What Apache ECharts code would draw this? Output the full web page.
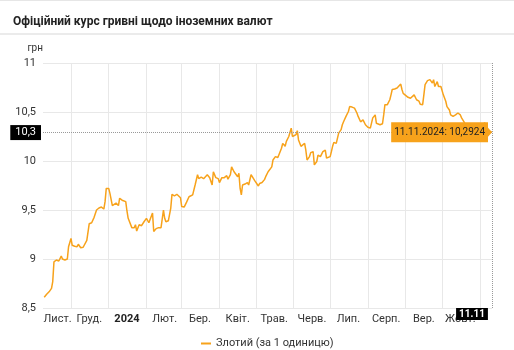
<!DOCTYPE html>
<html>
<head>
<meta charset="utf-8">
<script src="https://cdn.jsdelivr.net/npm/echarts@6/dist/echarts.min.js"></script>
<style>
html,body{margin:0;padding:0;background:#fff;}
#chart{width:514px;height:350px;}
</style>
</head>
<body>
<div id="chart"></div>
<script>
// ---- data ----
const titleText = 'Офіційний курс гривні щодо іноземних валют';
const seriesName = 'Злотий (за 1 одиницю)';
const axisStart = '2023-11-08';
const axisEnd = '2024-11-11';
const monthNames = ['2024','Лют.','Бер.','Квіт.','Трав.','Черв.','Лип.','Серп.','Вер.','Жовт.','Лист.','Груд.'];
const yTicks = [8.5, 9, 9.5, 10, 10.5, 11];
const pointerLabelX = '11.11';
const pointerLabelY = '10,3';
const tipText = '11.11.2024: 10,2924';

const dates = [
'2023-11-09','2023-11-11','2023-11-13','2023-11-15','2023-11-16','2023-11-17','2023-11-19','2023-11-21','2023-11-22','2023-11-23','2023-11-24','2023-11-26','2023-11-28','2023-11-29',
'2023-12-01','2023-12-02','2023-12-04','2023-12-06','2023-12-07','2023-12-09','2023-12-11','2023-12-12','2023-12-14','2023-12-16','2023-12-18','2023-12-19','2023-12-20','2023-12-22','2023-12-24','2023-12-26','2023-12-28','2023-12-29','2023-12-30',
'2024-01-01','2024-01-02','2024-01-04','2024-01-05','2024-01-07','2024-01-09','2024-01-10','2024-01-12','2024-01-15','2024-01-16','2024-01-17','2024-01-20','2024-01-22','2024-01-23','2024-01-24','2024-01-26','2024-01-28','2024-01-30',
'2024-02-01','2024-02-03','2024-02-04','2024-02-06','2024-02-07','2024-02-09','2024-02-11','2024-02-13','2024-02-15','2024-02-16','2024-02-17','2024-02-19','2024-02-21','2024-02-22','2024-02-24','2024-02-26','2024-02-27','2024-02-29',
'2024-03-01','2024-03-03','2024-03-05','2024-03-07','2024-03-08','2024-03-10','2024-03-12','2024-03-14','2024-03-15','2024-03-17','2024-03-19','2024-03-20','2024-03-22','2024-03-24','2024-03-26','2024-03-27','2024-03-29','2024-03-31',
'2024-04-01','2024-04-03','2024-04-05','2024-04-07','2024-04-08','2024-04-10','2024-04-11','2024-04-13','2024-04-14','2024-04-16','2024-04-17','2024-04-18','2024-04-19','2024-04-20','2024-04-22','2024-04-24','2024-04-25','2024-04-27','2024-04-28','2024-04-30',
'2024-05-01','2024-05-03','2024-05-04','2024-05-06','2024-05-08','2024-05-09','2024-05-11','2024-05-12','2024-05-14','2024-05-15','2024-05-17','2024-05-19','2024-05-20','2024-05-22','2024-05-23','2024-05-25','2024-05-26','2024-05-27','2024-05-28','2024-05-30','2024-05-31',
'2024-06-01','2024-06-03','2024-06-04','2024-06-05','2024-06-07','2024-06-08','2024-06-10','2024-06-11','2024-06-12','2024-06-14','2024-06-15','2024-06-17','2024-06-18','2024-06-20','2024-06-21','2024-06-23','2024-06-24','2024-06-25','2024-06-27','2024-06-28','2024-06-29',
'2024-07-01','2024-07-02','2024-07-03','2024-07-04','2024-07-06','2024-07-07','2024-07-08','2024-07-10','2024-07-11','2024-07-12','2024-07-14','2024-07-16','2024-07-17','2024-07-19','2024-07-21','2024-07-23','2024-07-24','2024-07-26','2024-07-27','2024-07-28','2024-07-30','2024-07-31',
'2024-08-01','2024-08-03','2024-08-04','2024-08-05','2024-08-07','2024-08-08','2024-08-09','2024-08-11','2024-08-13','2024-08-14','2024-08-15','2024-08-17','2024-08-18','2024-08-19','2024-08-20','2024-08-21','2024-08-23','2024-08-25','2024-08-26','2024-08-28','2024-08-29','2024-08-30',
'2024-09-01','2024-09-03','2024-09-05','2024-09-06','2024-09-08','2024-09-09','2024-09-10','2024-09-12','2024-09-13','2024-09-15','2024-09-16','2024-09-17','2024-09-19','2024-09-21','2024-09-22','2024-09-23','2024-09-24','2024-09-25','2024-09-27','2024-09-28','2024-09-30',
'2024-10-01','2024-10-02','2024-10-04','2024-10-05','2024-10-07','2024-10-08','2024-10-09','2024-10-10','2024-10-12','2024-10-13','2024-10-14','2024-10-16','2024-10-17','2024-10-19','2024-10-20','2024-10-22','2024-10-26','2024-10-30',
'2024-11-02','2024-11-05','2024-11-06','2024-11-08','2024-11-11'
];
const values = [
8.61,8.64,8.665,8.70,8.77,8.97,8.99,8.98,8.965,9.03,9.00,8.99,9.00,9.125,
9.21,9.14,9.13,9.125,9.15,9.115,9.12,9.14,9.19,9.36,9.37,9.36,9.425,9.50,9.52,9.53,9.51,9.585,9.72,
9.72,9.67,9.545,9.56,9.57,9.545,9.62,9.60,9.585,9.49,9.415,9.32,9.32,9.35,9.285,9.35,9.34,9.38,
9.415,9.37,9.36,9.47,9.28,9.31,9.32,9.32,9.50,9.415,9.38,9.39,9.52,9.66,9.645,9.66,9.645,9.625,
9.535,9.53,9.58,9.635,9.63,9.655,9.755,9.86,9.82,9.835,9.82,9.83,9.86,9.83,9.755,9.89,9.83,9.82,
9.78,9.83,9.83,9.85,9.815,9.86,9.94,9.89,9.875,9.84,9.875,9.72,9.655,9.755,9.765,9.78,9.755,9.86,9.84,9.80,
9.81,9.745,9.77,9.78,9.81,9.84,9.89,9.91,9.94,10.01,10.045,10.035,10.04,10.13,10.18,10.15,10.20,10.20,10.25,10.335,10.25,
10.25,10.27,10.31,10.215,10.15,10.13,10.18,10.11,10.01,10.045,10.085,10.095,9.96,9.995,10.06,10.045,10.03,10.095,10.11,10.03,10.03,
10.045,10.095,10.15,10.19,10.18,10.20,10.285,10.32,10.37,10.40,10.455,10.505,10.555,10.55,10.54,10.49,10.455,10.40,10.385,10.42,10.37,10.35,
10.345,10.335,10.345,10.44,10.47,10.385,10.37,10.37,10.38,10.47,10.575,10.575,10.585,10.625,10.675,10.73,10.735,10.745,10.76,10.785,10.73,10.69,
10.67,10.65,10.64,10.66,10.675,10.66,10.625,10.61,10.58,10.575,10.675,10.78,10.82,10.83,10.83,10.795,10.83,10.76,10.81,10.76,10.76,
10.76,10.675,10.61,10.555,10.52,10.47,10.49,10.455,10.47,10.455,10.49,10.47,10.44,10.40,10.375,10.36,10.35,10.345,
10.35,10.39,10.335,10.31,10.2924
];

// ---- build axis categories (every day) ----
function pad(n){return n<10?'0'+n:''+n;}
const days = [];
(function(){
  const s = new Date(axisStart+'T00:00:00Z'), e = new Date(axisEnd+'T00:00:00Z');
  for (let t = s.getTime(); t <= e.getTime(); t += 86400000) {
    const d = new Date(t);
    days.push(d.getUTCFullYear()+'-'+pad(d.getUTCMonth()+1)+'-'+pad(d.getUTCDate()));
  }
})();
const firstLabelDay = '2023-11-20';
const lastMonth = axisEnd.slice(0,7);
function isLabelDay(v){
  if (v === firstLabelDay) return true;
  return v.slice(8) === '16' && v.slice(0,7) !== lastMonth && v.slice(0,7) !== axisStart.slice(0,7);
}
const lastDate = dates[dates.length-1];
const lastValue = values[values.length-1];

const FONT = 'Roboto, "Noto Sans", sans-serif';
const ORANGE = '#f7a21b';

const chart = echarts.init(document.getElementById('chart'), null, {renderer:'canvas'});
chart.setOption({
  animation: false,
  backgroundColor: '#fff',
  textStyle: {fontFamily: FONT},
  title: {
    text: titleText, left: 8, top: 11,
    textStyle: {fontSize: 12, fontWeight: 'bold', color: '#222', fontFamily: FONT}
  },
  graphic: [
    {type:'rect', left:0, top:0, shape:{width:514, height:1}, style:{fill:'#e6e6e6'}, silent:true},
    {type:'rect', left:0, top:33, shape:{width:514, height:2}, style:{fill:'#ebebeb'}, silent:true}
  ],
  legend: {
    data: [seriesName], left: 196, top: 333,
    icon: 'rect', itemWidth: 10, itemHeight: 2, itemGap: 5,
    textStyle: {fontSize: 11, color: '#333', fontFamily: FONT}
  },
  grid: {left: 43, right: 22, top: 63, bottom: 42, containLabel: false},
  xAxis: {
    type: 'category', data: days, boundaryGap: false,
    axisLine: {show: false}, axisTick: {show: false},
    splitLine: {show: true, interval: function(i, v){ return v.slice(8) === '01'; }, lineStyle: {color: '#e8e8e8', width: 1}},
    axisLabel: {
      interval: function(i, v){ return isLabelDay(v); },
      formatter: function(v){
        const m = parseInt(v.slice(5,7),10) - 1;
        return m === 0 ? '{y|' + monthNames[0] + '}' : monthNames[m];
      },
      margin: 6, fontSize: 11, color: '#333', fontFamily: FONT,
      rich: {y: {fontWeight: 'bold', fontSize: 11, color: '#222', fontFamily: FONT}}
    }
  },
  yAxis: {
    type: 'value', min: yTicks[0], max: yTicks[yTicks.length-1], interval: 0.5,
    name: 'грн', nameLocation: 'end', nameGap: 10,
    nameTextStyle: {fontSize: 10, color: '#333', align: 'right', padding: [0, 0, 0, 0], fontFamily: FONT},
    axisLine: {show: false}, axisTick: {show: false},
    splitLine: {lineStyle: {color: '#e8e8e8', width: 1}},
    axisLabel: {
      margin: 7, fontSize: 11, color: '#333', fontFamily: FONT,
      formatter: function(v){ return String(v).replace('.', ','); }
    }
  },
  series: [{
    name: seriesName, type: 'line',
    data: dates.map(function(d, i){ return [d, values[i]]; }),
    showSymbol: false, symbol: 'none',
    lineStyle: {color: ORANGE, width: 1.5},
    itemStyle: {color: ORANGE},
    markLine: {
      silent: true, symbol: 'none', animation: false,
      lineStyle: {type: 'dotted', color: '#999', width: 1},
      data: [
        {
          yAxis: lastValue,
          label: {
            show: true, position: 'start', distance: 2,
            formatter: pointerLabelY,
            backgroundColor: '#000', color: '#fff', fontSize: 11, padding: [2, 5], fontFamily: FONT
          }
        },
        {
          xAxis: lastDate,
          label: {
            show: true, position: 'start', distance: 0,
            formatter: '{a|' + pointerLabelX + '}{s|}',
            rich: {
              a: {backgroundColor: '#000', color: '#fff', fontSize: 10, fontWeight: 'bold', padding: [1, 3], lineHeight: 11, fontFamily: FONT},
              s: {width: 40}
            }
          }
        }
      ]
    },
    markPoint: {
      silent: true, animation: false,
      data: [{
        coord: [lastDate, lastValue],
        symbol: 'path://M0,0 L6,5 L0,10 Z', symbolSize: [4, 9], symbolOffset: [-2, 0],
        itemStyle: {color: ORANGE},
        label: {
          show: true, position: 'left', distance: 0,
          formatter: tipText,
          backgroundColor: ORANGE, color: '#222', fontSize: 10, padding: [5, 3], fontFamily: FONT
        }
      }]
    }
  }]
});
</script>
</body>
</html>
